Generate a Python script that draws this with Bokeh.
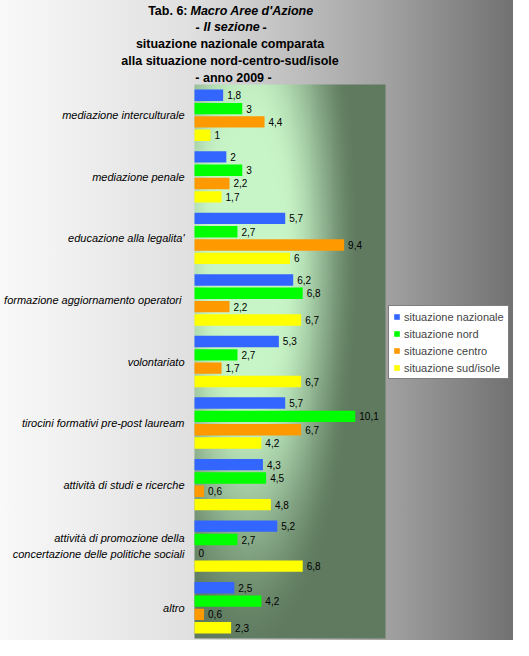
import numpy as np
from bokeh.plotting import figure
from bokeh.models import ColumnDataSource, Range1d, Label, Legend, LegendItem
from bokeh.transform import dodge
from bokeh.core.properties import value
from bokeh.embed import file_html
from bokeh.resources import INLINE

categories = [
    "mediazione interculturale",
    "mediazione penale",
    "educazione alla legalita'",
    "formazione aggiornamento  operatori",
    "volontariato",
    "tirocini formativi pre-post lauream",
    "attività di studi e ricerche",
    "attività di promozione della\nconcertazione delle politiche sociali",
    "altro",
]
nazionale = [1.8, 2, 5.7, 6.2, 5.3, 5.7, 4.3, 5.2, 2.5]
nord = [3, 3, 2.7, 6.8, 2.7, 10.1, 4.5, 2.7, 4.2]
centro = [4.4, 2.2, 9.4, 2.2, 1.7, 6.7, 0.6, 0, 0.6]
sud_isole = [1, 1.7, 6, 6.7, 6.7, 4.2, 4.8, 6.8, 2.3]
series_names = ["situazione nazionale", "situazione nord", "situazione centro", "situazione sud/isole"]
series_colors = ["#3366ff", "#00ff00", "#ff9900", "#ffff00"]
offsets = [0.325, 0.108, -0.108, -0.325]
x_max = 12

W, H = 513, 640
# plot area inside the canvas (px): left, right, top, bottom
pl, pr, pt, pb = 194, 385, 84, 638
sx = (pr - pl) / x_max
sy = (pb - pt) / len(categories)

p = figure(width=W, height=H,
           x_range=Range1d(-pl / sx, x_max + (W - pr) / sx),
           y_range=Range1d(-(H - pb) / sy, len(categories) + pt / sy),
           x_axis_location=None, y_axis_location=None,
           output_backend="svg", toolbar_location=None, min_border=0)
p.border_fill_color = None
p.background_fill_color = None
p.outline_line_color = None
p.grid.visible = False
p.styles = {"background": "linear-gradient(to right, #f9f9f9 0%, #e0e0e0 37%, #a2a2a2 75%, #717171 100%)"}

# plot area shading (light mint fading to dark green)
ny, nx = 280, 200
xf = np.linspace(0, 1, nx)[None, :]
yf = np.linspace(1, 0, ny)[:, None]
t = np.sqrt(((xf - 0.28) / 0.6) ** 2 + ((yf - 0.3) / 0.75) ** 2)
t = np.clip((t - 0.3) / 0.7, 0, 1)
t = t * t * (3 - 2 * t)
light = np.array([200, 245, 200])
dark = np.array([95, 122, 95])
rgb = light[None, None, :] + (dark - light)[None, None, :] * t[:, :, None]
img = np.empty((ny, nx, 4), dtype=np.uint8)
img[:, :, :3] = rgb.astype(np.uint8)
img[:, :, 3] = 255
p.image_rgba(image=[img.view(np.uint32).reshape(ny, nx)], x=0, y=0, dw=x_max, dh=len(categories))

ypos = [len(categories) - 0.5 - i for i in range(len(categories))]

# category labels
cat_src = ColumnDataSource(data=dict(y=ypos, name=categories, x=[0] * len(categories)))
p.text(x="x", y="y", text="name", source=cat_src, x_offset=-10, text_align="right",
       text_baseline="middle", text_font=value("Liberation Sans"), text_font_style="italic",
       text_font_size="11px", text_color="black", text_line_height=1.35)

items = []
for name, vals, col, off in zip(series_names, [nazionale, nord, centro, sud_isole], series_colors, offsets):
    src = ColumnDataSource(data=dict(y=ypos, val=vals,
                                     lbl=[f"{v:g}".replace(".", ",") for v in vals]))
    r = p.hbar(y=dodge("y", off), left=0, right="val", height=0.185,
               source=src, fill_color=col, line_color=None)
    p.text(x="val", y=dodge("y", off), text="lbl", source=src,
           x_offset=4, text_baseline="middle", text_font=value("Liberation Sans"),
           text_font_size="10px", text_color="black")
    items.append(LegendItem(label=name, renderers=[r]))

legend = Legend(items=items, location=(388, H - 379))
legend.border_line_color = "black"
legend.background_fill_color = "white"
legend.background_fill_alpha = 1
legend.label_text_font = "Liberation Sans"
legend.label_text_font_size = "11px"
legend.glyph_width = 7
legend.glyph_height = 7
legend.label_height = 13
legend.label_standoff = 4
legend.spacing = 4
legend.padding = 4
legend.margin = 0
p.add_layout(legend)

# title lines, screen px from the canvas' bottom-left
def title_part(txt, x, y, italic=False, align="center"):
    p.add_layout(Label(x=x, y=H - y, x_units="screen", y_units="screen", text=txt,
                       text_font="Liberation Sans", text_font_size="12.5px",
                       text_font_style="bold italic" if italic else "bold",
                       text_align=align, text_baseline="middle", text_color="black"))

title_part("Tab. 6:", 187, 10.5, align="right")
title_part("Macro Aree d'Azione", 190, 10.5, italic=True, align="left")
title_part("-", 197, 26.5)
title_part("II sezione", 203, 26.5, italic=True, align="left")
title_part("-", 264, 26.5)
title_part("situazione nazionale comparata", 229.5, 43.5)
title_part("alla situazione nord-centro-sud/isole", 229.5, 60.5)
title_part("- anno 2009 -", 233, 77)

open("out.html", "w").write(file_html(p, INLINE))
